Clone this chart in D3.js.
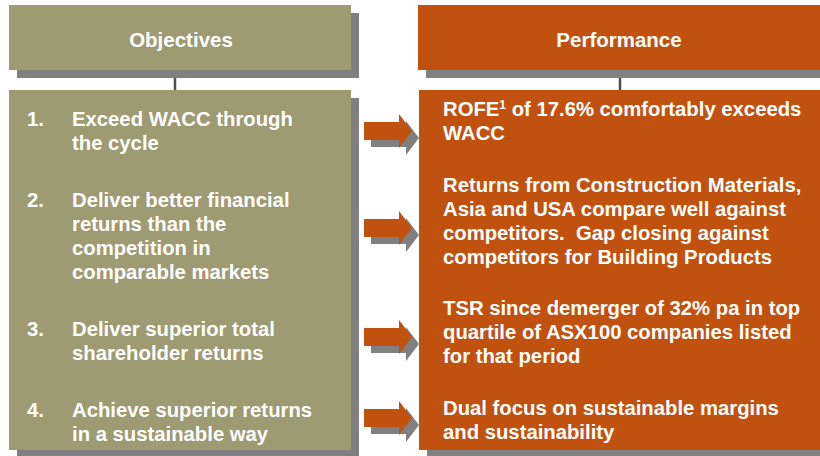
<!DOCTYPE html>
<html>
<head>
<meta charset="utf-8">
<script src="https://cdn.jsdelivr.net/npm/d3@7/dist/d3.min.js"></script>
<style>
  html, body { margin: 0; padding: 0; background: #ffffff; }
  svg { display: block; }
  text { font-family: "Liberation Sans", Arial, Helvetica, sans-serif; font-weight: bold; fill: #ffffff; white-space: pre; }
</style>
</head>
<body>
<svg id="chart" width="820" height="456"></svg>
<script>
// ---- content ----
const headers = ["Objectives", "Performance"];
const objectiveNumbers = ["1.", "2.", "3.", "4."];
const objectiveLines = [
  ["Exceed WACC through", "the cycle"],
  ["Deliver better financial", "returns than the", "competition in", "comparable markets"],
  ["Deliver superior total", "shareholder returns"],
  ["Achieve superior returns", "in a sustainable way"]
];
const performanceLines = [
  ["ROFE|1| of 17.6% comfortably exceeds", "WACC"],
  ["Returns from Construction Materials,", "Asia and USA compare well against", "competitors.  Gap closing against", "competitors for Building Products"],
  ["TSR since demerger of 32% pa in top", "quartile of ASX100 companies listed", "for that period"],
  ["Dual focus on sustainable margins", "and sustainability"]
];

// ---- layout (not data) ----
const W = 820, H = 456;
const olive = "#9e9a72", orange = "#c1510f", shadow = "#808080", connector = "#4d4d4d";
const shadowOff = 8;
const lineH = 24;
const fontSize = 20.3;
const leftBox = { x: 9, w: 342 }, rightBox = { x: 418, w: 420 };
const headerY = 5, headerH = 65, bodyY = 90, bodyH = 360;
const leftFirstBaseline = [126, 207, 336, 417];
const rightFirstBaseline = [116, 192, 315, 415];
const arrowCenter = [131, 228, 337, 418];

const svg = d3.select("#chart");

const y = d3.scaleLinear().domain([0, H]).range([0, H]);

function box(g, x, yy, w, h, fill) {
  g.append("rect").attr("x", x + shadowOff).attr("y", y(yy) + shadowOff)
    .attr("width", w).attr("height", h).attr("fill", shadow);
  g.append("rect").attr("x", x).attr("y", y(yy))
    .attr("width", w).attr("height", h).attr("fill", fill);
}

const gBoxes = svg.append("g");
[175, 620].forEach(cx => {
  gBoxes.append("line").attr("x1", cx).attr("x2", cx)
    .attr("y1", headerY + headerH + shadowOff).attr("y2", bodyY)
    .attr("stroke", connector).attr("stroke-width", 2.5);
});
box(gBoxes, leftBox.x, headerY, leftBox.w, headerH, olive);
box(gBoxes, rightBox.x, headerY, rightBox.w, headerH, orange);
box(gBoxes, leftBox.x, bodyY, leftBox.w, bodyH, olive);

svg.selectAll("text.header").data(headers).join("text")
  .attr("class", "header")
  .attr("x", (d, i) => i === 0 ? 181 : 619)
  .attr("y", 47)
  .attr("text-anchor", "middle")
  .style("font-size", "20.5px")
  .text(d => d);

const arrowPath = (cx0, cy) => {
  const sx = cx0, hx = cx0 + 35, tx = cx0 + 48;
  return `M${sx},${cy - 9}L${hx},${cy - 9}L${hx},${cy - 17}L${tx},${cy}L${hx},${cy + 17}L${hx},${cy + 9}L${sx},${cy + 9}Z`;
};
const gArrows = svg.append("g");
gArrows.selectAll("path.sh").data(arrowCenter).join("path")
  .attr("class", "sh").attr("fill", shadow)
  .attr("d", d => arrowPath(364 + 7, y(d) + 7));
gArrows.selectAll("path.ar").data(arrowCenter).join("path")
  .attr("class", "ar").attr("fill", orange)
  .attr("d", d => arrowPath(364, y(d)));

box(svg.append("g"), rightBox.x + 1, bodyY, rightBox.w, bodyH, orange);

const gLeft = svg.append("g").style("font-size", fontSize + "px");
objectiveLines.forEach((lines, i) => {
  gLeft.append("text").attr("x", 27).attr("y", y(leftFirstBaseline[i])).text(objectiveNumbers[i]);
  gLeft.selectAll(null).data(lines).join("text")
    .attr("x", 72)
    .attr("y", (d, j) => y(leftFirstBaseline[i] + j * lineH))
    .text(d => d);
});

const gRight = svg.append("g").style("font-size", fontSize + "px");
performanceLines.forEach((lines, i) => {
  lines.forEach((line, j) => {
    const t = gRight.append("text").attr("x", 443).attr("y", y(rightFirstBaseline[i] + j * lineH));
    const parts = line.split("|");
    parts.forEach((p, k) => {
      if (k % 2 === 1) {
        t.append("tspan").attr("dy", -7).style("font-size", "12px").text(p);
      } else {
        t.append("tspan").attr("dy", k > 0 ? 7 : 0).text(p);
      }
    });
  });
});
</script>
</body>
</html>
